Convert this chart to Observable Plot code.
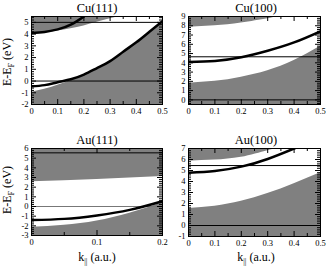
<!DOCTYPE html>
<html><head><meta charset="utf-8">
<script src="https://cdn.jsdelivr.net/npm/d3@7"></script>
<script src="https://cdn.jsdelivr.net/npm/@observablehq/plot@0.6"></script>
<style>
body{margin:0;background:#fff;}
#wrap{position:relative;width:326px;height:267px;overflow:hidden;font-family:"Liberation Serif","DejaVu Serif",serif;font-weight:400;color:#000;}
.p{position:absolute;}
.p svg{overflow:visible;}
.t{position:absolute;font-size:12.5px;font-weight:400;transform:translate(-50%,-50%);white-space:nowrap;line-height:1;}
.yl{position:absolute;font-size:12px;font-weight:400;transform:translate(-50%,-50%) rotate(-90deg);white-space:nowrap;line-height:1;}
.xl{position:absolute;font-size:12px;font-weight:400;transform:translate(-50%,-50%);white-space:nowrap;line-height:1;}
sub{font-size:8px;vertical-align:-3px;}
</style></head>
<body><div id="wrap"></div>
<script>
// ---- data ----
const titles = ["Cu(111)", "Cu(100)", "Au(111)", "Au(100)"];
const yLabel = "E-E";
const ySub = "F";
const yUnit = " (eV)";
const xLabel = "k";
const xSub = "||";
const xUnit = " (a.u.)";

// Cu(111)
const cu111K = [0, 0.05, 0.1, 0.15, 0.2, 0.25, 0.3, 0.35, 0.4, 0.45, 0.5];
const cu111Band = [-0.45, -0.35, -0.1, 0.15, 0.55, 1.1, 1.7, 2.5, 3.3, 4.2, 5.1];
const cu111GapLow = [-0.95, -0.7, -0.35, 0.05, 0.5, 1.05, 1.65, 2.45, 3.25, 4.15, 5.05];
const cu111UpK = [0, 0.05, 0.1, 0.15, 0.2, 0.25, 0.3, 0.35];
const cu111GapHigh = [4.0, 4.12, 4.27, 4.45, 4.7, 5.0, 5.3, 5.6];
const cu111IsK = [0, 0.05, 0.1, 0.15, 0.2, 0.21];
const cu111IsE = [4.1, 4.18, 4.4, 4.8, 5.5, 5.65];
const cu111Levels = [0, 5.0];

// Cu(100)
const cu100K = [0, 0.1, 0.2, 0.3, 0.4, 0.5];
const cu100Band = [4.1, 4.2, 4.6, 5.3, 6.2, 7.4];
const cu100GapLow = [1.8, 2.0, 2.45, 3.15, 4.25, 5.8];
const cu100UpK = [0, 0.1, 0.2, 0.3, 0.35];
const cu100GapHigh = [7.85, 8.0, 8.3, 8.75, 9.1];
const cu100Levels = [0, 4.65];

// Au(111)
const au111K = [0, 0.05, 0.1, 0.15, 0.2];
const au111Band = [-1.4, -1.28, -0.92, -0.35, 0.55];
const au111GapLow = [-2.15, -1.95, -1.5, -0.7, 0.4];
const au111UpK = [0, 0.1, 0.2];
const au111GapHigh = [2.55, 2.8, 3.1];
const au111Levels = [5.55];
const au111Fermi = [0];

// Au(100)
const au100K = [0, 0.1, 0.2, 0.3, 0.4, 0.5];
const au100GapLow = [1.55, 1.75, 2.2, 2.9, 3.8, 4.8];
const au100BandK = [0, 0.1, 0.2, 0.3, 0.4, 0.42];
const au100Band = [4.8, 4.95, 5.35, 6.05, 7.0, 7.2];
const au100UpK = [0, 0.1, 0.2, 0.3, 0.35];
const au100GapHigh = [5.85, 5.95, 6.2, 6.8, 7.1];
const au100Levels = [0, 5.45];

// ticks
const xMajor05 = [0, 0.1, 0.2, 0.3, 0.4, 0.5];
const xMinor05 = [0.05, 0.15, 0.25, 0.35, 0.45];
const xMajor02 = [0, 0.1, 0.2];
const xMinor02 = [0.05, 0.15];
const yTicksCu111 = [-2, -1, 0, 1, 2, 3, 4, 5];
const yTicksCu100 = [0, 1, 2, 3, 4, 5, 6, 7, 8, 9];
const yTicksAu111 = [-3, -2, -1, 0, 1, 2, 3, 4, 5, 6];
const yTicksAu100 = [-1, 0, 1, 2, 3, 4, 5, 6, 7];

const GRAY = "#808080";
const wrap = document.getElementById("wrap");

function minorOf(major, dom) {
  const out = [];
  for (let i = 0; i < major.length; i++) {
    for (let j = 1; j < 5; j++) {
      const v = +(major[i] + j * 0.2).toFixed(2);
      if (v > dom[0] && v < dom[1] && !major.includes(v)) out.push(v);
    }
    for (let j = 1; j < 5; j++) {
      const v = +(major[0] - j * 0.2).toFixed(2);
      if (i === 0 && v > dom[0]) out.push(v);
    }
  }
  return out;
}

function pts(ks, es) { return ks.map((k, i) => ({k, e: es[i]})); }

function panel(cfg) {
  const {left, top, width, height, ml, mr, mt, mb, xDomain, yDomain, xMajor, xMinor, yMajor, marks} = cfg;
  const fw = width - ml - mr, fh = height - mt - mb;
  const yMinor = minorOf(yMajor, yDomain);
  const fmt = d => String(d);
  const plot = Plot.plot({
    width, height, marginLeft: ml, marginRight: mr, marginTop: mt, marginBottom: mb,
    style: {fontFamily: "Liberation Serif, DejaVu Serif, serif", fontSize: "8.5px", background: "transparent", overflow: "visible", color: "#000"},
    x: {domain: xDomain},
    y: {domain: yDomain},
    marks: [
      ...marks,
      Plot.tickX(xMajor, {x: d => d, insetTop: fh - 5, stroke: "#000"}),
      Plot.tickX(xMinor, {x: d => d, insetTop: fh - 3, stroke: "#000"}),
      Plot.tickX(xMajor, {x: d => d, insetBottom: fh - 5, stroke: "#000"}),
      Plot.tickX(xMinor, {x: d => d, insetBottom: fh - 3, stroke: "#000"}),
      Plot.tickY(yMajor, {y: d => d, insetRight: fw - 5, stroke: "#000"}),
      Plot.tickY(yMinor, {y: d => d, insetRight: fw - 3, stroke: "#000"}),
      Plot.tickY(yMajor, {y: d => d, insetLeft: fw - 5, stroke: "#000"}),
      Plot.tickY(yMinor, {y: d => d, insetLeft: fw - 3, stroke: "#000"}),
      Plot.axisX({ticks: xMajor, tickSize: 0, tickPadding: 3, tickFormat: fmt, label: null}),
      Plot.axisY({ticks: yMajor, tickSize: 0, tickPadding: 3, tickFormat: fmt, label: null}),
      Plot.frame({stroke: "#000", strokeWidth: 1})
    ]
  });
  const d = document.createElement("div");
  d.className = "p";
  d.style.left = left + "px";
  d.style.top = top + "px";
  d.appendChild(plot);
  wrap.appendChild(d);
}

function gapMarks(lowK, low, upK, high, yDomain) {
  return [
    Plot.areaY(pts(lowK, low), {x: "k", y1: yDomain[0], y2: "e", fill: GRAY, curve: "natural", clip: true}),
    Plot.areaY(pts(upK, high), {x: "k", y1: "e", y2: yDomain[1], fill: GRAY, curve: "natural", clip: true})
  ];
}

// Cu(111)
{
  const yd = [-2, 5.5];
  panel({left: 0, top: 0, width: 163, height: 120, ml: 31, mr: 1, mt: 16, mb: 16,
    xDomain: [0, 0.5], yDomain: yd, xMajor: xMajor05, xMinor: xMinor05, yMajor: yTicksCu111,
    marks: [
      ...gapMarks(cu111K, cu111GapLow, cu111UpK, cu111GapHigh, yd),
      Plot.ruleY(cu111Levels, {stroke: "#000", strokeWidth: 1}),
      Plot.line(pts(cu111K, cu111Band), {x: "k", y: "e", stroke: "#000", strokeWidth: 2.5, curve: "natural", clip: true}),
      Plot.line(pts(cu111IsK, cu111IsE), {x: "k", y: "e", stroke: "#000", strokeWidth: 2.5, curve: "natural", clip: true})
    ]});
}
// Cu(100)
{
  const yd = [-0.5, 9];
  panel({left: 163, top: 0, width: 163, height: 120, ml: 25, mr: 6, mt: 16, mb: 16,
    xDomain: [0, 0.5], yDomain: yd, xMajor: xMajor05, xMinor: xMinor05, yMajor: yTicksCu100,
    marks: [
      ...gapMarks(cu100K, cu100GapLow, cu100UpK, cu100GapHigh, yd),
      Plot.ruleY(cu100Levels, {stroke: "#000", strokeWidth: 1}),
      Plot.line(pts(cu100K, cu100Band), {x: "k", y: "e", stroke: "#000", strokeWidth: 2.5, curve: "natural", clip: true})
    ]});
}
// Au(111)
{
  const yd = [-3, 6];
  panel({left: 0, top: 134, width: 163, height: 120, ml: 31, mr: 1, mt: 14, mb: 19,
    xDomain: [0, 0.2], yDomain: yd, xMajor: xMajor02, xMinor: xMinor02, yMajor: yTicksAu111,
    marks: [
      ...gapMarks(au111K, au111GapLow, au111UpK, au111GapHigh, yd),
      Plot.ruleY(au111Levels, {stroke: "#000", strokeWidth: 1}),
      Plot.ruleY(au111Fermi, {stroke: "#777", strokeWidth: 1}),
      Plot.line(pts(au111K, au111Band), {x: "k", y: "e", stroke: "#000", strokeWidth: 2.5, curve: "natural", clip: true})
    ]});
}
// Au(100)
{
  const yd = [-1, 7];
  panel({left: 163, top: 134, width: 163, height: 120, ml: 25, mr: 6, mt: 14, mb: 18,
    xDomain: [0, 0.5], yDomain: yd, xMajor: xMajor05, xMinor: xMinor05, yMajor: yTicksAu100,
    marks: [
      ...gapMarks(au100K, au100GapLow, au100UpK, au100GapHigh, yd),
      Plot.ruleY(au100Levels, {stroke: "#000", strokeWidth: 1}),
      Plot.line(pts(au100BandK, au100Band), {x: "k", y: "e", stroke: "#000", strokeWidth: 2.5, curve: "natural", clip: true})
    ]});
}

// titles and axis labels
const titlePos = [[97, 8], [256, 8], [97, 140], [256, 140]];
titles.forEach((t, i) => {
  const d = document.createElement("div");
  d.className = "t"; d.textContent = t;
  d.style.left = titlePos[i][0] + "px"; d.style.top = titlePos[i][1] + "px";
  wrap.appendChild(d);
});
[[8, 62], [8, 190]].forEach(([x, y]) => {
  const d = document.createElement("div");
  d.className = "yl";
  d.innerHTML = `${yLabel}<sub>${ySub}</sub>${yUnit}`;
  d.style.left = x + "px"; d.style.top = y + "px";
  wrap.appendChild(d);
});
[[97, 258], [256, 258]].forEach(([x, y]) => {
  const d = document.createElement("div");
  d.className = "xl";
  d.innerHTML = `${xLabel}<sub>${xSub}</sub>${xUnit}`;
  d.style.left = x + "px"; d.style.top = y + "px";
  wrap.appendChild(d);
});
</script>
</body></html>
